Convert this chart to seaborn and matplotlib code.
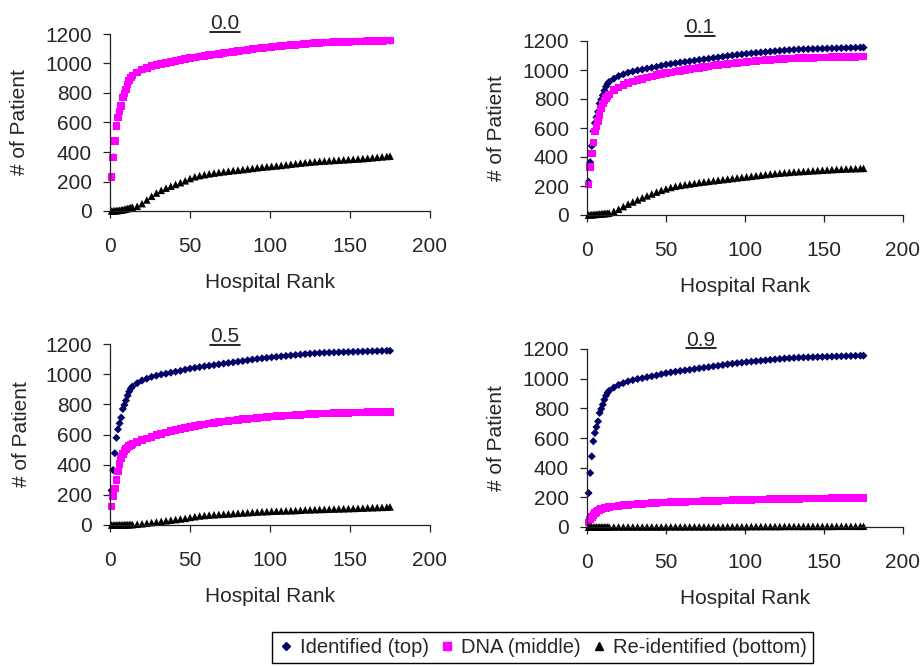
import pandas as pd
import matplotlib
matplotlib.use('Agg')
import matplotlib.pyplot as plt
from matplotlib.lines import Line2D
import seaborn as sns

sns.set_style('ticks')
plt.rcParams['font.family'] = ['Liberation Sans', 'DejaVu Sans']

RANKS = [1, 2, 3, 4, 5, 6, 7, 8, 9, 10, 11, 12, 13, 14,
         17, 20, 23, 26, 29, 32, 35, 38, 41, 44, 47, 50,
         53, 56, 59, 62, 65, 68, 71, 74, 77, 80, 83, 86,
         89, 92, 95, 98, 101, 104, 107, 110, 113, 116, 119, 122,
         125, 128, 131, 134, 137, 140, 143, 146, 149, 152, 155, 158,
         161, 164, 167, 170, 173, 175]

# Identified patients (same curve in every panel)
IDENTIFIED = [229, 364, 476, 578, 634, 674, 712, 769, 796, 825, 858, 885, 905, 918,
              940, 958, 970, 982, 990, 998, 1003, 1010, 1016, 1022, 1030, 1037,
              1042, 1047, 1052, 1056, 1060, 1065, 1070, 1074, 1078, 1083, 1087, 1092,
              1097, 1101, 1105, 1108, 1112, 1115, 1118, 1121, 1124, 1127, 1130, 1133,
              1136, 1138, 1140, 1142, 1143, 1144, 1145, 1146, 1147, 1148, 1149, 1150,
              1151, 1152, 1153, 1154, 1155, 1155]

# DNA curves per threshold (at 0.0 it sits right on top of the identified curve)
DNA_00 = list(IDENTIFIED)
DNA_01 = [211, 333, 425, 500, 575, 610, 650, 690, 735, 770, 790, 805, 818, 830,
          860, 880, 897, 910, 920, 930, 940, 948, 956, 964, 972, 978,
          984, 990, 995, 1000, 1005, 1010, 1015, 1020, 1025, 1030, 1034, 1038,
          1042, 1046, 1050, 1053, 1056, 1059, 1062, 1065, 1068, 1070, 1072, 1074,
          1076, 1078, 1080, 1081, 1082, 1083, 1084, 1085, 1086, 1087, 1088, 1089,
          1090, 1090, 1091, 1091, 1092, 1092]
DNA_05 = [122, 193, 243, 299, 354, 405, 445, 470, 490, 505, 515, 523, 530, 536,
          550, 562, 574, 585, 595, 605, 614, 622, 630, 637, 644, 650,
          656, 662, 667, 672, 677, 682, 686, 690, 694, 698, 701, 704,
          707, 710, 713, 716, 719, 721, 723, 725, 727, 729, 731, 733,
          735, 737, 738, 739, 740, 741, 742, 743, 744, 745, 746, 747,
          748, 748, 749, 749, 750, 750]
DNA_09 = [30, 50, 68, 82, 94, 103, 110, 116, 120, 124, 127, 130, 132, 134,
          139, 143, 147, 150, 153, 155, 157, 159, 161, 163, 165, 166,
          167, 168, 169, 170, 171, 172, 173, 174, 175, 176, 177, 178,
          179, 180, 181, 182, 183, 184, 185, 185, 186, 187, 187, 188,
          189, 189, 190, 190, 191, 191, 192, 192, 193, 193, 194, 194,
          194, 195, 195, 195, 195, 195]

# Re-identified curves per threshold
RE_00 = [0, 1, 2, 3, 4, 5, 7, 9, 11, 14, 17, 20, 23, 26,
         32, 50, 75, 100, 122, 140, 155, 168, 180, 192, 205, 220,
         232, 240, 246, 252, 257, 262, 266, 270, 274, 277, 281, 285,
         289, 293, 297, 300, 303, 306, 309, 313, 317, 321, 325, 328,
         331, 334, 337, 339, 341, 343, 345, 347, 349, 351, 353, 355,
         358, 361, 364, 367, 370, 372]
RE_01 = [0, 1, 2, 3, 4, 5, 6, 7, 8, 9, 10, 11, 12, 14,
         25, 40, 58, 75, 90, 104, 118, 132, 145, 158, 170, 180,
         190, 198, 204, 209, 214, 219, 224, 228, 232, 236, 240, 244,
         248, 252, 256, 260, 263, 267, 271, 275, 279, 283, 286, 289,
         292, 294, 297, 299, 301, 303, 305, 307, 309, 311, 313, 315,
         316, 318, 319, 320, 321, 322]
RE_05 = [0, 0, 0, 0, 1, 1, 1, 1, 2, 2, 2, 3, 3, 3,
         5, 8, 12, 16, 20, 24, 28, 32, 36, 40, 44, 50,
         55, 60, 63, 66, 68, 70, 72, 74, 76, 78, 80, 82,
         84, 86, 88, 89, 91, 92, 93, 94, 95, 96, 98, 100,
         101, 102, 103, 104, 105, 106, 107, 108, 109, 110, 111, 112,
         114, 115, 116, 117, 118, 120]
RE_09 = [0, 0, 0, 0, 0, 0, 0, 0, 0, 0, 0, 0, 0, 0,
         0, 0, 0, 0, 0, 0, 0, 0, 0, 0, 0, 1,
         1, 1, 1, 1, 1, 1, 1, 1, 1, 1, 1, 1,
         2, 2, 2, 2, 2, 3, 3, 3, 3, 3, 3, 3,
         4, 4, 4, 4, 4, 4, 4, 4, 4, 4, 4, 5,
         5, 5, 5, 5, 5, 5]

THRESHOLDS = ['0.0', '0.1', '0.5', '0.9']
DNA = [DNA_00, DNA_01, DNA_05, DNA_09]
REID = [RE_00, RE_01, RE_05, RE_09]

SERIES = ['Identified (top)', 'DNA (middle)', 'Re-identified (bottom)']
COLORS = dict(zip(SERIES, ['#000066', '#FF00FF', '#000000']))
MARKERS = dict(zip(SERIES, ['D', 's', '^']))
SIZES = dict(zip(SERIES, [17, 30, 30]))

FS = 15

# axes corners (x0, y_bottom, x1, y_top) and title anchors, in pixels of the 924x666 figure
W, H = 924, 666
panels = [
    dict(rect=(110, 211, 430, 34), title=(225, 29), ylab=19),
    dict(rect=(587, 215, 903, 41), title=(700, 33), ylab=497),
    dict(rect=(110, 525, 430, 344), title=(225, 342), ylab=21),
    dict(rect=(587, 527, 903, 349), title=(701, 346), ylab=497),
]

fig = plt.figure(figsize=(W / 100, H / 100), dpi=100)
titles = []
for i, p in enumerate(panels):
    x0, yb, x1, yt = p['rect']
    ax = fig.add_axes([x0 / W, 1 - yb / H, (x1 - x0) / W, (yb - yt) / H])
    df = pd.concat([
        pd.DataFrame({'rank': RANKS, 'patients': IDENTIFIED, 'series': SERIES[0]}),
        pd.DataFrame({'rank': RANKS, 'patients': DNA[i], 'series': SERIES[1]}),
        pd.DataFrame({'rank': RANKS, 'patients': REID[i], 'series': SERIES[2]}),
    ], ignore_index=True)
    sns.scatterplot(data=df, x='rank', y='patients', hue='series', style='series',
                    size='series', palette=COLORS, markers=MARKERS, sizes=SIZES,
                    linewidth=0, legend=False, ax=ax, clip_on=False)
    ax.set_xlim(0, 200)
    ax.set_ylim(0, 1200)
    ax.set_xticks([0, 50, 100, 150, 200])
    ax.set_yticks(range(0, 1201, 200))
    sns.despine(ax=ax)
    for s in ['left', 'bottom']:
        ax.spines[s].set_linewidth(0.9)
        ax.spines[s].set_color('#222222')
    ax.tick_params(axis='x', length=5, width=0.9, pad=14, labelsize=FS, color='#222222')
    ax.tick_params(axis='y', length=5, width=0.9, pad=8, labelsize=FS, color='#222222')
    ax.set_xlabel('Hospital Rank', fontsize=FS)
    ax.set_ylabel('# of Patient', fontsize=FS)
    h_px = yb - yt
    ax.xaxis.label.set_va('center')
    ax.xaxis.set_label_coords(0.5, -71 / h_px)
    ax.yaxis.label.set_va('center')
    ax.yaxis.set_label_coords((p['ylab'] - x0) / (x1 - x0), 0.5)
    tx, ty = p['title']
    titles.append(fig.text(tx / W, 1 - ty / H, THRESHOLDS[i], ha='center',
                           va='baseline', fontsize=FS))

# underline the threshold titles
fig.canvas.draw()
renderer = fig.canvas.get_renderer()
for t in titles:
    bb = t.get_window_extent(renderer)
    base = t.get_transform().transform(t.get_position())[1]
    fig.add_artist(Line2D([bb.x0, bb.x1], [base - 2.5, base - 2.5], transform=None,
                          color='black', lw=1.2))

handles = [Line2D([], [], ls='none', marker='D', ms=4.2, color=COLORS[SERIES[0]]),
           Line2D([], [], ls='none', marker='s', ms=5.5, color=COLORS[SERIES[1]]),
           Line2D([], [], ls='none', marker='^', ms=6, color=COLORS[SERIES[2]])]
leg = fig.legend(handles, SERIES, loc='center', bbox_to_anchor=(0.587, 0.028), ncol=3,
                 frameon=True, fancybox=False, edgecolor='black', framealpha=1,
                 fontsize=14.5, handlelength=0.8, handletextpad=0.3,
                 columnspacing=0.5, borderpad=0.3)
leg.get_frame().set_linewidth(1.0)

fig.savefig('out.png', dpi=100)
